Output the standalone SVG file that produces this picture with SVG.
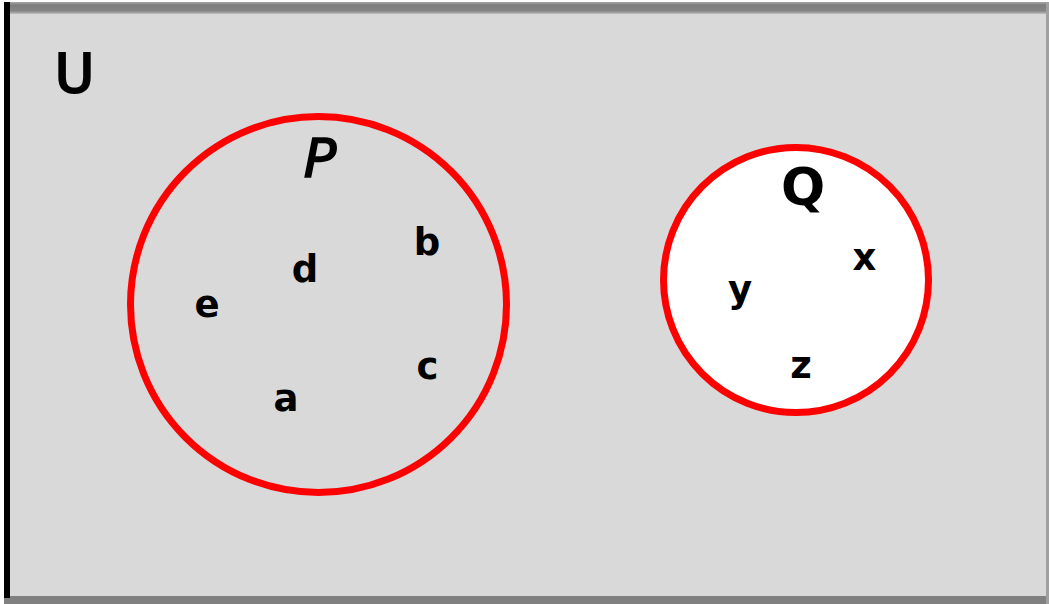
<svg xmlns="http://www.w3.org/2000/svg" width="1049" height="604" viewBox="0 0 1049 604">
  <defs>
    <linearGradient id="topband" x1="0" y1="0" x2="0" y2="1">
      <stop offset="0" stop-color="#a8a8a8"/>
      <stop offset="0.25" stop-color="#7c7c7c"/>
      <stop offset="0.75" stop-color="#858585"/>
      <stop offset="1" stop-color="#c0c0c0"/>
    </linearGradient>
  </defs>
  <style>
    .lbl { font-family: "DejaVu Sans", "Liberation Sans", sans-serif; fill: #000; text-anchor: middle; }
    .el { font-size: 37px; font-weight: bold; }
    .set { stroke: #ff0000; stroke-width: 7; }
  </style>
  <rect x="0" y="0" width="1049" height="604" fill="#ffffff"/>
  <rect id="universe" x="4" y="2" width="1045" height="602" fill="#d9d9d9"/>
  <rect x="4" y="2" width="1045" height="12" fill="url(#topband)"/>
  <rect x="4" y="596" width="1045" height="8" fill="#808080"/>
  <rect x="1046" y="2" width="3" height="602" fill="#a0a0a0"/>
  <rect x="4" y="2" width="6" height="596" fill="#000000"/>
  <text class="lbl" x="74.5" y="92" font-size="54" stroke="#000" stroke-width="2.2">U</text>

  <g id="setP">
    <circle class="set" cx="318.5" cy="304.5" r="188" fill="none"/>
    <text class="lbl" x="320" y="177" font-size="54" font-style="italic" stroke="#000" stroke-width="1.6">P</text>
  </g>
  <g id="setQ">
    <circle class="set" cx="796" cy="280" r="132.5" fill="#ffffff"/>
    <text class="lbl" x="803" y="205" font-size="52" font-weight="bold">Q</text>
  </g>

  <g id="elements">
    <text class="lbl el" x="305" y="282">d</text>
    <text class="lbl el" x="427" y="255">b</text>
    <text class="lbl el" x="207" y="317">e</text>
    <text class="lbl el" x="286" y="411">a</text>
    <text class="lbl el" x="427.5" y="379">c</text>
    <text class="lbl el" x="864.5" y="270">x</text>
    <text class="lbl el" x="740" y="302">y</text>
    <text class="lbl el" x="801" y="378">z</text>
  </g>
  <g id="connectors"/>
</svg>
